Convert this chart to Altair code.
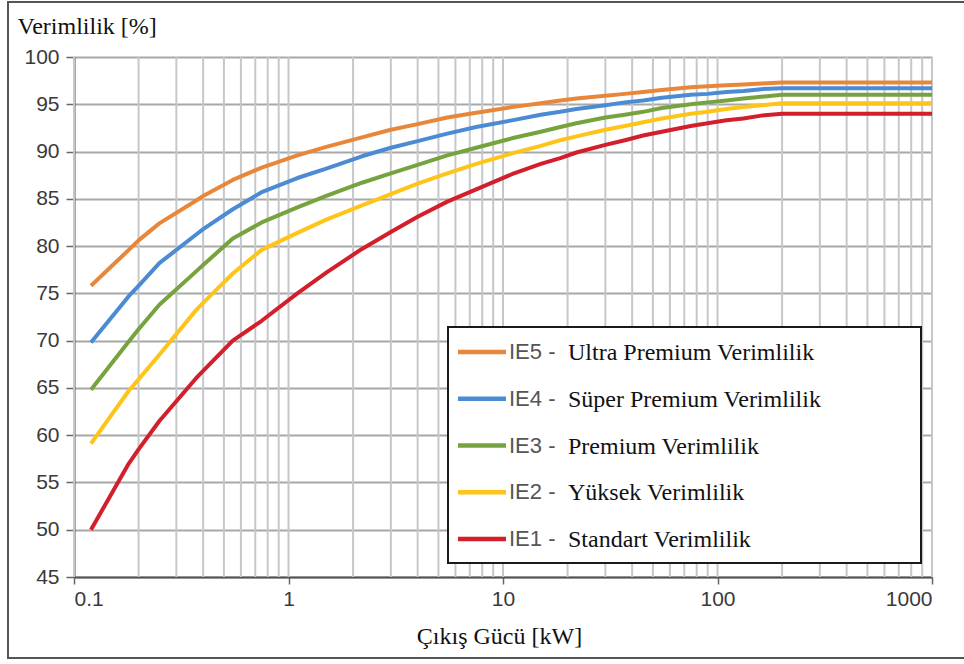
import altair as alt
import pandas as pd

# Rated output power (kW) and minimum efficiency (%) per IE class, 4-pole motors
power_kw = [0.12, 0.18, 0.2, 0.25, 0.37, 0.4, 0.55, 0.75, 1.1, 1.5, 2.2, 3, 4, 5.5,
            7.5, 11, 15, 18.5, 22, 30, 37, 45, 55, 75, 90, 110, 132, 160, 200, 1000]

ie5 = [75.8, 79.6, 80.6, 82.4, 84.8, 85.3, 87.0, 88.3, 89.6, 90.5, 91.5, 92.3, 92.9, 93.6,
       94.1, 94.7, 95.1, 95.4, 95.6, 95.9, 96.1, 96.3, 96.5, 96.8, 96.9, 97.0, 97.1, 97.2, 97.3, 97.3]
ie4 = [69.8, 74.7, 75.8, 78.2, 81.2, 81.8, 83.9, 85.7, 87.2, 88.2, 89.5, 90.4, 91.1, 91.9,
       92.6, 93.3, 93.9, 94.2, 94.5, 94.9, 95.2, 95.4, 95.7, 96.0, 96.1, 96.3, 96.4, 96.6, 96.7, 96.7]
ie3 = [64.8, 69.9, 71.2, 73.8, 77.3, 78.0, 80.8, 82.5, 84.1, 85.3, 86.7, 87.7, 88.6, 89.6,
       90.4, 91.4, 92.1, 92.6, 93.0, 93.6, 93.9, 94.2, 94.6, 95.0, 95.2, 95.4, 95.6, 95.8, 96.0, 96.0]
ie2 = [59.1, 64.7, 65.9, 68.5, 73.2, 74.0, 77.1, 79.6, 81.4, 82.8, 84.3, 85.5, 86.6, 87.7,
       88.7, 89.8, 90.6, 91.2, 91.6, 92.3, 92.7, 93.1, 93.5, 94.0, 94.2, 94.5, 94.7, 94.9, 95.1, 95.1]
ie1 = [50.0, 57.0, 58.5, 61.5, 66.0, 66.8, 70.0, 72.1, 75.0, 77.2, 79.7, 81.5, 83.1, 84.7,
       86.0, 87.6, 88.7, 89.3, 89.9, 90.7, 91.2, 91.7, 92.1, 92.7, 93.0, 93.3, 93.5, 93.8, 94.0, 94.0]

codes = ["IE5", "IE4", "IE3", "IE2", "IE1"]
descriptions = ["Ultra Premium Verimlilik", "Süper Premium Verimlilik",
                "Premium Verimlilik", "Yüksek Verimlilik", "Standart Verimlilik"]
colors = ["#E8873A", "#4A8BD3", "#77A33E", "#FFC418", "#D21F2B"]

decades = [0.1, 1, 10, 100]
multipliers = [1, 2, 3, 4, 5, 6, 7, 8, 9]
x_labels = [0.1, 1, 10, 100, 1000]
y_ticks = [45, 50, 55, 60, 65, 70, 75, 80, 85, 90, 95, 100]

series = {"IE5": ie5, "IE4": ie4, "IE3": ie3, "IE2": ie2, "IE1": ie1}
rows = []
for code, values in series.items():
    for p, e in zip(power_kw, values):
        rows.append({"code": code, "P": p, "E": e})
curves = pd.DataFrame(rows)

grid_x = pd.DataFrame({"P": [round(d * m, 6) for d in decades for m in multipliers] + [1000]})
legend_df = pd.DataFrame({"code": codes, "label": [c + " -" for c in codes], "desc": descriptions})

sans = "Liberation Sans"
serif = "Liberation Serif"

x_scale = alt.Scale(type="log", domain=[0.1, 1000], nice=False)
x_axis = alt.Axis(values=x_labels, format="~g", grid=False, tickSize=7, tickColor="#666",
                  tickWidth=1.5, domainColor="#555", domainWidth=2,
                  labelFont=sans, labelFontSize=21, labelColor="#3a3a3a", labelPadding=4,
                  title="Çıkış Gücü [kW]", titleFont=serif, titleFontSize=24,
                  titleFontWeight="normal", titleColor="#111", titleX=425, titleY=66,
                  titleAlign="center", titleBaseline="alphabetic")
x_enc = alt.X("P:Q", scale=x_scale, axis=x_axis)

color_scale = alt.Scale(domain=codes, range=colors)

frame = alt.Chart(alt.Data(values=[{}])).mark_rect(
    filled=False, stroke="#555", strokeWidth=2
).encode(x=alt.value(-66), x2=alt.value(900), y=alt.value(-55), y2=alt.value(601))

vgrid = alt.Chart(grid_x).mark_rule(color="#c5c8cb", strokeWidth=2).encode(x=x_enc)

lines = alt.Chart(curves).mark_line(strokeWidth=4, strokeJoin="round").encode(
    x=x_enc,
    y=alt.Y("E:Q", scale=alt.Scale(domain=[45, 100], nice=False, zero=False),
            axis=alt.Axis(values=y_ticks, grid=True, gridColor="#a8a8a8", gridWidth=2,
                          tickSize=8, tickColor="#666", tickWidth=1.5,
                          domainColor="#555", domainWidth=2,
                          labelFont=sans, labelFontSize=21, labelColor="#3a3a3a",
                          labelPadding=7,
                          title="Verimlilik [%]", titleFont=serif, titleFontSize=24,
                          titleFontWeight="normal", titleColor="#111", titleAngle=0,
                          titleX=-57, titleY=-24, titleAlign="left",
                          titleBaseline="alphabetic")),
    color=alt.Color("code:N", scale=color_scale, legend=None),
    order=alt.Order("P:Q"),
)

main = alt.layer(frame, vgrid, lines)

# Legend box with line keys and two-font labels
leg_y = alt.Y("code:N", scale=alt.Scale(type="point", domain=codes, range=[295, 482], padding=0),
              axis=None)

box = alt.Chart(alt.Data(values=[{}])).mark_rect(
    fill="white", stroke="#1a1a1a", strokeWidth=2
).encode(x=alt.value(374), x2=alt.value(847), y=alt.value(270), y2=alt.value(506))

keys = alt.Chart(legend_df).mark_rule(strokeWidth=4.5).encode(
    x=alt.value(384), x2=alt.value(432), y=leg_y,
    color=alt.Color("code:N", scale=color_scale, legend=None))

key_codes = alt.Chart(legend_df).mark_text(
    align="left", baseline="middle", font=sans, fontSize=22, color="#555"
).encode(x=alt.value(435), y=leg_y, text="label:N")

key_desc = alt.Chart(legend_df).mark_text(
    align="left", baseline="middle", font=serif, fontSize=24, color="#111", dy=1
).encode(x=alt.value(494), y=leg_y, text="desc:N")

legend = alt.layer(box, keys, key_codes, key_desc)

chart = alt.layer(main, legend).resolve_scale(y="independent").properties(
    width=858, height=520,
    autosize=alt.AutoSizeParams(type="none"),
    padding={"left": 74, "top": 57, "right": 32, "bottom": 87},
    background="white",
).configure_view(stroke=None)

chart.save("out.html", embed_options={"renderer": "svg", "actions": False})
